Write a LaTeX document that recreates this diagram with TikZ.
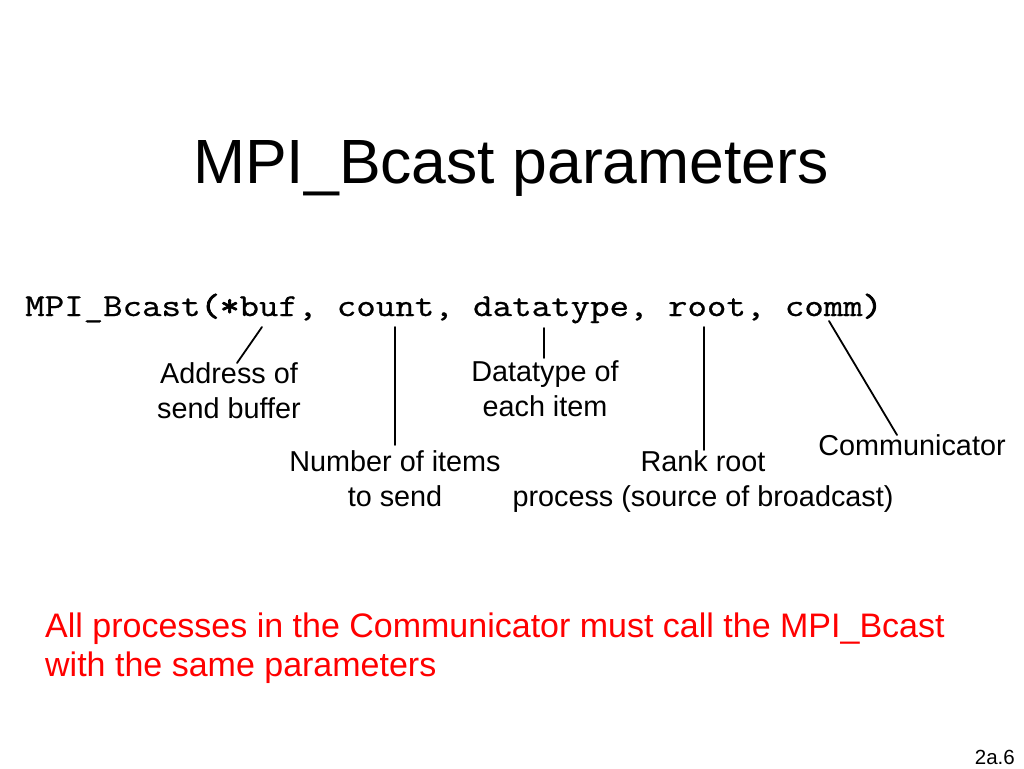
\documentclass[tikz,border=0pt]{standalone}
\usepackage{fontspec}
\setmainfont{Liberation Sans}
\newfontfamily\codefont{Latin Modern Mono}[FakeStretch=1.182,FakeBold=0.8]
\newfontfamily\codeboldfont{Latin Modern Mono}[FakeStretch=1.182,FakeBold=2.5]
\definecolor{slidered}{RGB}{255,0,0}
\tikzset{
  title/.style={inner sep=0pt, anchor=base, font=\fontsize{62.5}{70}\selectfont},
  code/.style={inner sep=0pt, anchor=base west, font=\codefont\fontsize{32}{36}\selectfont},
  lbl/.style={inner sep=0pt, anchor=base, align=center, font=\fontsize{28.8}{35}\selectfont},
  note/.style={inner sep=0pt, anchor=base west, align=left, text=slidered, font=\fontsize{34}{39}\selectfont},
  pnum/.style={inner sep=0pt, anchor=base east, font=\fontsize{20.5}{24}\selectfont},
  pointer/.style={line width=1.8pt, line cap=round}
}
\begin{document}
\begin{tikzpicture}[x=1pt,y=-1pt]
\useasboundingbox[fill=white] (0,0) rectangle (1024,768);
\node[title] (ttl) at (511,183) {MPI\_Bcast parameters};
\node[code] (call) at (25,316) {MPI\_Bcast{\codeboldfont(*}buf, count, datatype, root, comm{\codeboldfont)}};
% multi-line nodes: base anchor is the baseline of the last line
\node[lbl] (addr) at (229,418) {Address of\\send buffer};
\node[lbl] (dtype) at (545,416) {Datatype of\\each item};
\node[lbl] (num) at (395,506) {Number of items\\to send};
\node[lbl] (rank) at (703,506) {Rank root\\process (source of broadcast)};
\node[lbl] (comm) at (912,455) {Communicator};
\node[note] (rule) at (45,676) {All processes in the Communicator must call the MPI\_Bcast\\with the same parameters};
\node[pnum] (page) at (1015,764) {2a.6};
\coordinate (bufA) at (262,327);
\coordinate (bufB) at (237,363);
\coordinate (cntA) at (395,327);
\coordinate (cntB) at (395,445);
\coordinate (dtA) at (544,328);
\coordinate (dtB) at (544,358);
\coordinate (rtA) at (704,327);
\coordinate (rtB) at (704,450);
\coordinate (cmA) at (829,321);
\coordinate (cmB) at (897,435);
\draw[pointer] (bufA) -- (bufB);
\draw[pointer] (cntA) -- (cntB);
\draw[pointer] (dtA) -- (dtB);
\draw[pointer] (rtA) -- (rtB);
\draw[pointer] (cmA) -- (cmB);
\end{tikzpicture}
\end{document}
